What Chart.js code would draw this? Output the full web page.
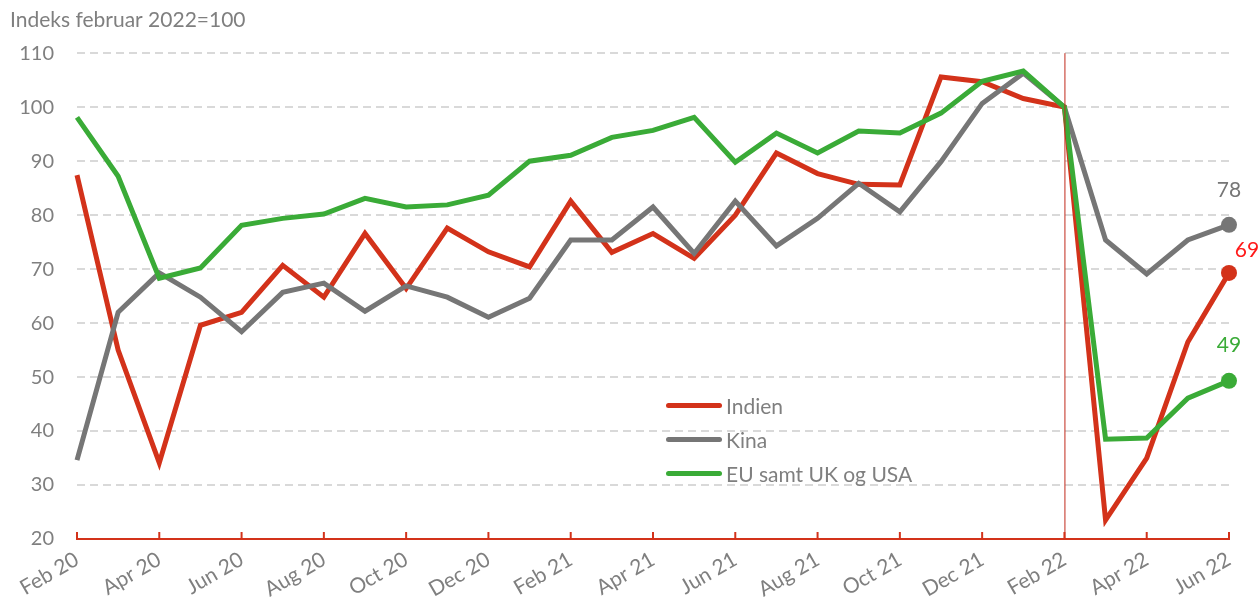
<!DOCTYPE html>
<html>
<head>
<meta charset="utf-8">
<script src="https://cdn.jsdelivr.net/npm/chart.js@4"></script>
<style>
  html, body { margin: 0; padding: 0; background: #fff; }
  #wrap { position: relative; width: 1258px; height: 603px; }
  #legend { position: absolute; left: 666px; top: 388px; font-family: Lato, sans-serif; font-size: 21px; color: #7f7f7f; }
  #legend div { height: 34px; display: flex; align-items: center; }
  #legend span.sw { display: inline-block; width: 56px; height: 5px; border-radius: 3px; margin-right: 4px; }
</style>
</head>
<body>
<div id="wrap">
  <canvas id="line-chart" width="1258" height="603"></canvas>
  <div id="legend"></div>
</div>
<script>
const months = [
  "Feb 20", "Mar 20", "Apr 20", "May 20", "Jun 20", "Jul 20", "Aug 20", "Sep 20", "Oct 20", "Nov 20",
  "Dec 20", "Jan 21", "Feb 21", "Mar 21", "Apr 21", "May 21", "Jun 21", "Jul 21", "Aug 21", "Sep 21",
  "Oct 21", "Nov 21", "Dec 21", "Jan 22", "Feb 22", "Mar 22", "Apr 22", "May 22", "Jun 22",
];

const indien = [
  87.4, 55.0, 34.1, 59.6, 62.0, 70.7, 64.8, 76.6, 66.4, 77.6,
  73.2, 70.4, 82.6, 73.1, 76.6, 72.0, 80.0, 91.5, 87.7, 85.7,
  85.6, 105.6, 104.7, 101.6, 100, 23.5, 35.0, 56.5, 69.3,
];
const kina = [
  34.6, 62.0, 69.3, 64.8, 58.4, 65.7, 67.4, 62.2, 66.9, 64.8,
  61.1, 64.6, 75.4, 75.4, 81.5, 72.9, 82.6, 74.3, 79.4, 85.9,
  80.6, 89.9, 100.7, 106.3, 100, 75.4, 69.1, 75.4, 78.2,
];
const euUkUsa = [
  98.1, 87.2, 68.3, 70.2, 78.1, 79.4, 80.2, 83.1, 81.5, 81.9,
  83.7, 90.0, 91.1, 94.4, 95.7, 98.1, 89.8, 95.2, 91.5, 95.6,
  95.2, 98.9, 104.8, 106.7, 100, 38.5, 38.7, 46.1, 49.3,
];

const seriesNames = ["Indien", "Kina", "EU samt UK og USA"];
const seriesColors = ["#d3321a", "#767676", "#3aab37"];
const endLabelColors = ["#ff1a1a", "#767676", "#3aab37"];
const endLabelOffsets = [[18, -23], [0, -35], [0, -36]];
const markerMonth = "Feb 22";
const FONT = 'Lato, sans-serif';

// legend
const legend = document.getElementById("legend");
seriesNames.forEach((name, i) => {
  const row = document.createElement("div");
  row.innerHTML = `<span class="sw" style="background:${seriesColors[i]}"></span>${name}`;
  legend.appendChild(row);
});

const extras = {
  id: "extras",
  afterDraw(chart) {
    const { ctx, chartArea, scales } = chart;
    const x = scales.x;
    ctx.save();
    // vertical marker line
    const mx = x.getPixelForValue(months.indexOf(markerMonth));
    ctx.strokeStyle = "#c0281a";
    ctx.lineWidth = 1;
    ctx.beginPath();
    ctx.moveTo(mx + 0.5, chartArea.top);
    ctx.lineTo(mx + 0.5, chartArea.bottom);
    ctx.stroke();
    // inward ticks on the x axis
    ctx.strokeStyle = "#d3321a";
    ctx.lineWidth = 2;
    x.ticks.forEach((t, i) => {
      if (t.label === null || t.label === undefined) return;
      const px = x.getPixelForTick(i);
      ctx.beginPath();
      ctx.moveTo(px, chartArea.bottom - 7);
      ctx.lineTo(px, chartArea.bottom);
      ctx.stroke();
    });
    // end labels
    ctx.font = "21px " + FONT;
    ctx.textAlign = "center";
    ctx.textBaseline = "middle";
    chart.data.datasets.forEach((ds, i) => {
      const meta = chart.getDatasetMeta(i);
      const pt = meta.data[meta.data.length - 1];
      const v = ds.data[ds.data.length - 1];
      ctx.fillStyle = endLabelColors[i];
      ctx.fillText(Math.round(v), pt.x + endLabelOffsets[i][0], pt.y + endLabelOffsets[i][1]);
    });
    ctx.restore();
  },
};

const lastIdx = months.length - 1;
const line = document.getElementById("line-chart");
new Chart(line, {
  type: "line",
  data: {
    labels: months,
    datasets: [indien, kina, euUkUsa].map((d, i) => ({
      label: seriesNames[i],
      data: d,
      order: 2 - i,
      borderColor: seriesColors[i],
      backgroundColor: seriesColors[i],
      borderWidth: 5,
      tension: 0,
      pointRadius: (c) => (c.dataIndex === lastIdx ? 8 : 0),
      pointHoverRadius: 0,
      pointBorderWidth: 0,
    })),
  },
  options: {
    responsive: false,
    animation: false,
    layout: { padding: { left: 10, right: 29, bottom: 0 } },
    plugins: {
      legend: { display: false },
      tooltip: { enabled: false },
      title: {
        display: true,
        text: "Indeks februar 2022=100",
        align: "start",
        color: "#7f7f7f",
        font: { family: FONT, size: 21, weight: "normal" },
        padding: { top: 8, bottom: 20 },
      },
    },
    scales: {
      x: {
        offset: false,
        afterFit: (s) => { s.height = 64; },
        border: { color: "#d3321a", width: 2 },
        grid: { display: false, drawTicks: false },
        ticks: {
          autoSkip: false,
          maxRotation: 30,
          minRotation: 30,
          padding: 8,
          color: "#7f7f7f",
          font: { family: FONT, size: 21 },
          callback: (v, i) => (i % 2 === 0 ? months[i] : null),
        },
      },
      y: {
        min: 20,
        max: 110,
        afterFit: (s) => { s.width = 67; },
        border: { display: false, dash: [8, 5] },
        grid: {
          drawTicks: false,
          lineWidth: 2,
          color: (c) => (c.tick && c.tick.value === 20 ? "rgba(0,0,0,0)" : "#d9d9d9"),
        },
        ticks: {
          stepSize: 10,
          padding: 23,
          color: "#7f7f7f",
          font: { family: FONT, size: 20 },
        },
      },
    },
  },
  plugins: [extras],
});
</script>
</body>
</html>
